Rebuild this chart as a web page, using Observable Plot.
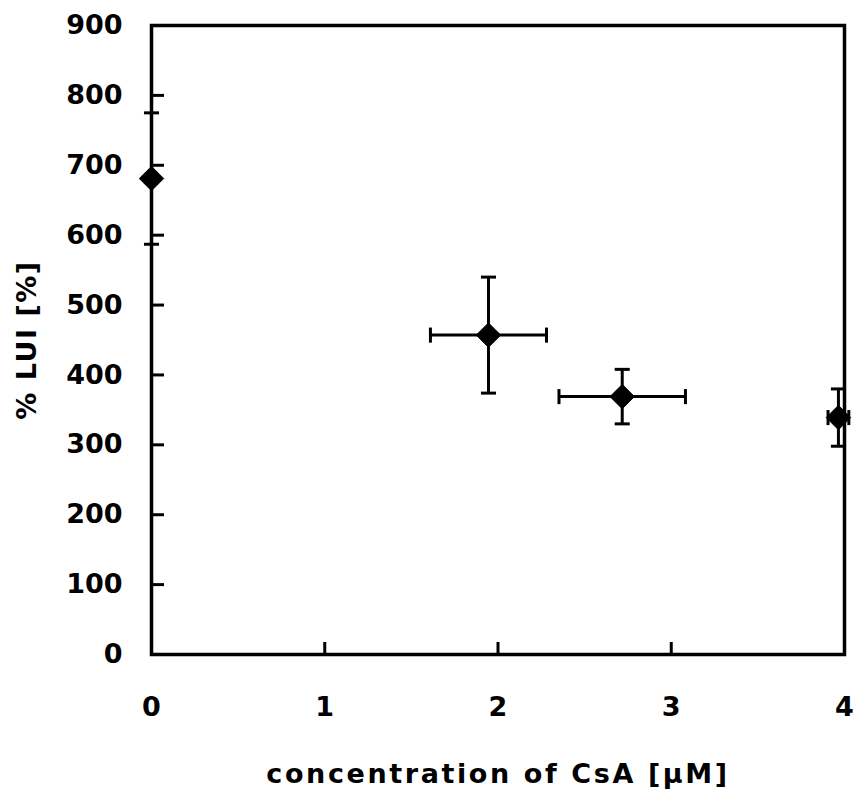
<!DOCTYPE html>
<html><head><meta charset="utf-8">
<script src="https://cdn.jsdelivr.net/npm/d3@7"></script>
<script src="https://cdn.jsdelivr.net/npm/@observablehq/plot@0.6"></script>
<style>
body{margin:0;background:#fff;}
svg text{font-family:"DejaVu Sans",sans-serif;font-weight:bold;}
g[aria-label="x-axis label"] text{letter-spacing:2.6px;}
g[aria-label="y-axis label"] text{letter-spacing:1.5px;}
</style></head><body>
<div id="chart"></div>
<script>
const conc = [0, 1.945, 2.717, 3.965];
const concErr = [0, 0.335, 0.365, 0.06];
const lui = [681, 457, 369, 339];
const luiErr = [94, 83, 39, 41];
const xTicks = [0, 1, 2, 3, 4];
const yTicks = [0, 100, 200, 300, 400, 500, 600, 700, 800, 900];

const data = conc.map((c, i) => ({x: c, xe: concErr[i], y: lui[i], ye: luiErr[i]}));
const hasX = data.filter(d => d.xe > 0);

const hCap = {draw(ctx, size){ const w = Math.sqrt(size)/2; ctx.moveTo(-w,0); ctx.lineTo(w,0); }};
const vCap = {draw(ctx, size){ const w = Math.sqrt(size)/2; ctx.moveTo(0,-w); ctx.lineTo(0,w); }};

const chart = Plot.plot({
  width: 856, height: 790,
  marginLeft: 151, marginRight: 12, marginTop: 25, marginBottom: 136,
  style: {fontSize: "27px", color: "#000", background: "#fff"},
  x: {domain: [0, 4]},
  y: {domain: [0, 900]},
  marks: [
    Plot.frame({stroke: "#000", strokeWidth: 3.5}),
    Plot.axisY(yTicks, {tickSize: 0, tickPadding: 29, fontSize: 27, tickFormat: "d", label: "% LUI [%]", labelAnchor: "center", labelOffset: 135, labelArrow: false}),
    Plot.axisY(yTicks, {tickSize: -13, text: null, label: null, strokeWidth: 3}),
    Plot.axisX(xTicks, {tickSize: 0, tickPadding: 42, fontSize: 27, tickFormat: "d", label: "concentration of CsA [μM]", labelAnchor: "center", labelOffset: 128, labelArrow: false}),
    Plot.axisX(xTicks, {tickSize: -12, text: null, label: null, strokeWidth: 3}),
    Plot.ruleX(data, {x: "x", y1: d => d.y - d.ye, y2: d => d.y + d.ye, stroke: "#000", strokeWidth: 3}),
    Plot.ruleY(hasX, {y: "y", x1: d => d.x - d.xe, x2: d => d.x + d.xe, stroke: "#000", strokeWidth: 3}),
    Plot.dot(data, {x: "x", y: d => d.y + d.ye, symbol: hCap, r: 8.5, stroke: "#000", strokeWidth: 3}),
    Plot.dot(data, {x: "x", y: d => d.y - d.ye, symbol: hCap, r: 8.5, stroke: "#000", strokeWidth: 3}),
    Plot.dot(hasX, {x: d => d.x - d.xe, y: "y", symbol: vCap, r: 8.5, stroke: "#000", strokeWidth: 3}),
    Plot.dot(hasX, {x: d => d.x + d.xe, y: "y", symbol: vCap, r: 8.5, stroke: "#000", strokeWidth: 3}),
    Plot.dot(data, {x: "x", y: "y", symbol: "diamond2", r: 11, fill: "#000", stroke: "#000", strokeWidth: 1})
  ]
});
document.getElementById("chart").appendChild(chart);
</script></body></html>
